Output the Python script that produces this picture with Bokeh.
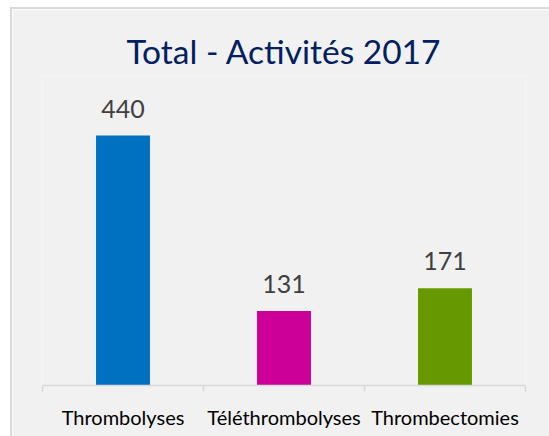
import numpy as np
from bokeh.plotting import figure
from bokeh.layouts import column, row
from bokeh.models import ColumnDataSource, LabelSet, FixedTicker, Range1d, Spacer
from bokeh.core.properties import value
from bokeh.embed import file_html
from bokeh.resources import INLINE

categories = ["Thrombolyses", "Téléthrombolyses", "Thrombectomies"]
values = [440, 131, 171]
colors = ["#0070c0", "#cc0099", "#669900"]
title_text = "Total - Activités 2017"

xpos = np.arange(len(categories)) + 0.5
src = ColumnDataSource(dict(x=xpos, top=values, color=colors,
                            lbl=[str(v) for v in values]))

W, H = 537, 427
p = figure(width=W, height=H, output_backend="svg", toolbar_location=None,
           x_range=Range1d(0, len(categories)), y_range=Range1d(0, 545.6),
           min_border_left=30, min_border_right=24, min_border_top=66,
           min_border_bottom=51, title=title_text)

p.background_fill_color = "#f1f1f1"
p.border_fill_color = "#f1f1f1"
p.outline_line_color = None
p.grid.visible = False
p.yaxis.visible = False

p.title.align = "center"
p.title.text_font = "Lato"
p.title.text_font_size = "33.5px"
p.title.text_font_style = "normal"
p.title.text_color = "#002060"

p.vbar(x="x", top="top", bottom=0, width=0.335, fill_color="color",
       line_color=None, source=src)

labels = LabelSet(x="x", y="top", text="lbl", source=src, y_offset=18,
                  text_align="center", text_baseline="alphabetic",
                  text_font=value("Lato"), text_font_size=value("25px"),
                  text_color=value("#404040"))
p.add_layout(labels)

ax = p.xaxis[0]
ax.ticker = FixedTicker(ticks=list(xpos),
                        minor_ticks=list(np.arange(len(categories) + 1)))
ax.major_label_overrides = {float(x): c for x, c in zip(xpos, categories)}
ax.major_tick_line_color = None
ax.minor_tick_in = 0
ax.minor_tick_out = 6
ax.minor_tick_line_color = "#d9d9d9"
ax.minor_tick_line_width = 1.5
ax.axis_line_color = "#d9d9d9"
ax.axis_line_width = 1.5
ax.major_label_text_font = "Lato"
ax.major_label_text_font_size = "20px"
ax.major_label_text_color = "#000000"
ax.major_label_standoff = 13

border = "#d9d9d9"
bstyle = {"background-color": border}
layout = row(
    Spacer(width=10, height=H + 9),
    column(
        Spacer(width=W + 2, height=7),
        Spacer(width=W + 2, height=2, background=border, styles=bstyle),
        row(Spacer(width=2, height=H, background=border, styles=bstyle), p),
    ),
)

open("out.html", "w").write(file_html(layout, INLINE))
